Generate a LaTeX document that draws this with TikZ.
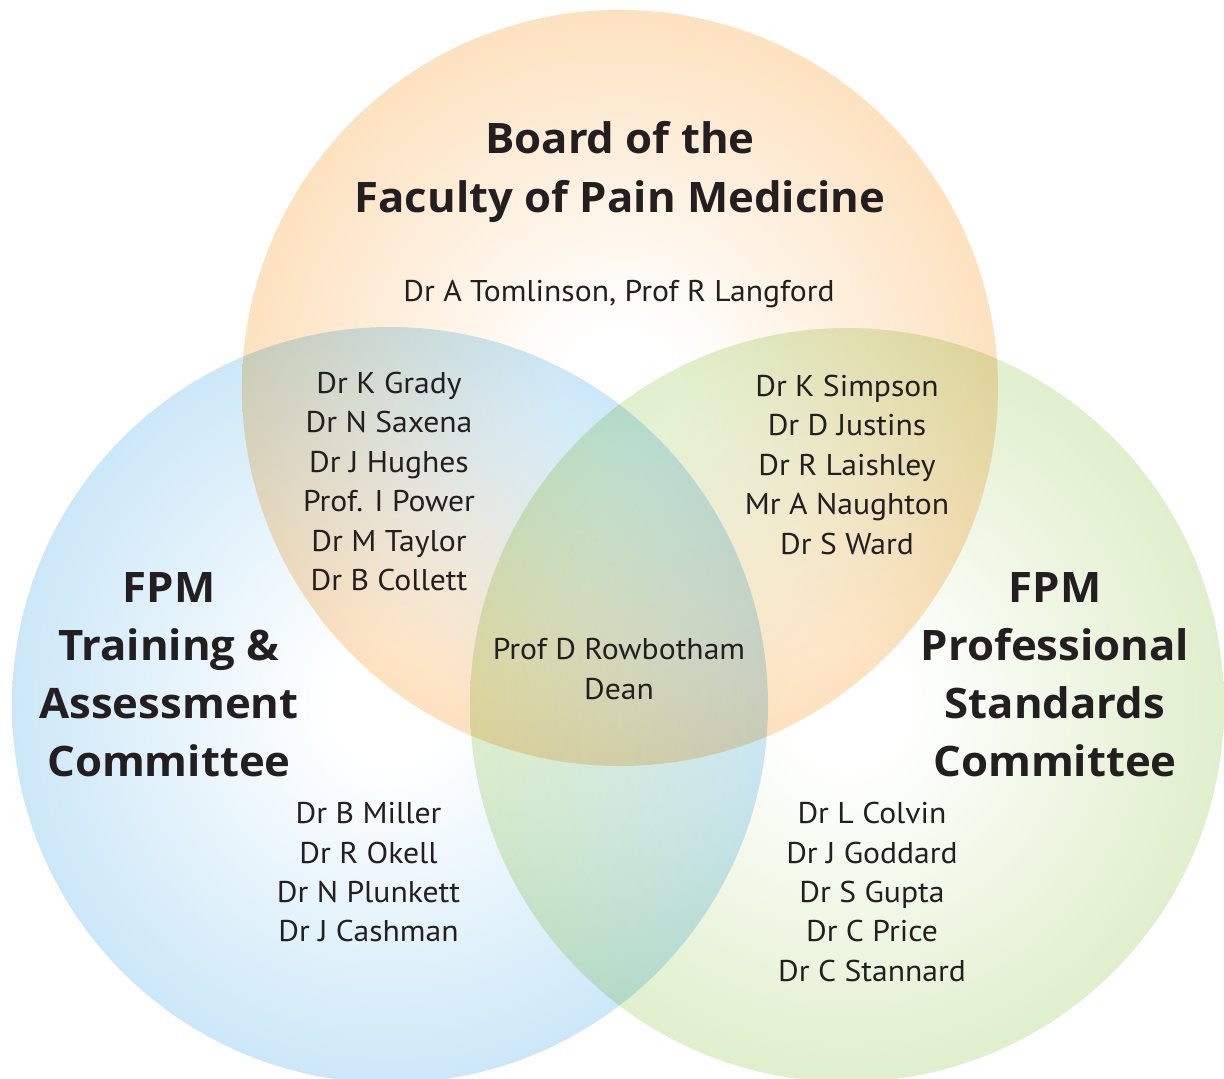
\documentclass[tikz,border=0pt]{standalone}
\usepackage{fontspec}
\setmainfont{PT Sans}
\newfontfamily\namefont[FakeStretch=1.055]{PT Sans}
\newfontfamily\headfont[FakeStretch=1.04]{Open Sans Bold}
\definecolor{txt}{HTML}{231F20}
\definecolor{orangeedge}{RGB}{252,214,166}
\definecolor{blueedge}{RGB}{184,223,245}
\definecolor{greenedge}{RGB}{212,233,184}
\pgfdeclareradialshading{orangeshade}{\pgfpointorigin}{color(0bp)=(white); color(4bp)=(white); color(25bp)=(orangeedge!72!white); color(50bp)=(orangeedge)}
\pgfdeclareradialshading{blueshade}{\pgfpointorigin}{color(0bp)=(white); color(4bp)=(white); color(25bp)=(blueedge!72!white); color(50bp)=(blueedge)}
\pgfdeclareradialshading{greenshade}{\pgfpointorigin}{color(0bp)=(white); color(4bp)=(white); color(25bp)=(greenedge!72!white); color(50bp)=(greenedge)}
\begin{document}
\begin{tikzpicture}[x=1pt,y=-1pt,
  person/.style={font=\namefont\fontsize{30}{36}\selectfont, text=txt, anchor=base, inner sep=0pt},
  heading/.style={font=\headfont\fontsize{42}{50}\selectfont, text=txt, anchor=base, inner sep=0pt}]
\fill[white] (0,0) rectangle (1224,1079);
\useasboundingbox (0,0) rectangle (1224,1079);
\begin{scope}[blend mode=multiply]
  \shade[shading=orangeshade] (620,388) circle[radius=378pt];
  \shade[shading=blueshade] (390,705) circle[radius=378pt];
  \shade[shading=greenshade] (847,705) circle[radius=377pt];
\end{scope}
% Board
\node[heading] (board1) at (620,153) {Board of the};
\node[heading] (board2) at (620,212) {Faculty of Pain Medicine};
\node[person] (boardnames) at (619,301) {Dr A Tomlinson, Prof R Langford};
% left title
\foreach \t [count=\i] in {FPM, Training \&, Assessment, Committee}
  \node[heading] (lt\i) at (169,544+58*\i) {\t};
% right title
\foreach \t [count=\i] in {FPM, Professional, Standards, Committee}
  \node[heading] (rt\i) at (1055,544+58*\i) {\t};
% board & training overlap
\foreach \t [count=\i] in {Dr K Grady, Dr N Saxena, Dr J Hughes, Prof. I Power, Dr M Taylor, Dr B Collett}
  \node[person] (lu\i) at (389,354.1+39.4*\i) {\t};
% board & standards overlap
\foreach \t [count=\i] in {Dr K Simpson, Dr D Justins, Dr R Laishley, Mr A Naughton, Dr S Ward}
  \node[person] (ru\i) at (847,357.1+39.4*\i) {\t};
% centre
\node[person] (dean1) at (619,659.5) {Prof D Rowbotham};
\node[person] (dean2) at (619,699.5) {Dean};
% training only
\foreach \t [count=\i] in {Dr B Miller, Dr R Okell, Dr N Plunkett, Dr J Cashman}
  \node[person] (ll\i) at (368.5,784.3+39.4*\i) {\t};
% standards only
\foreach \t [count=\i] in {Dr L Colvin, Dr J Goddard, Dr S Gupta, Dr C Price, Dr C Stannard}
  \node[person] (rl\i) at (872,784.3+39.4*\i) {\t};
\end{tikzpicture}
\end{document}
